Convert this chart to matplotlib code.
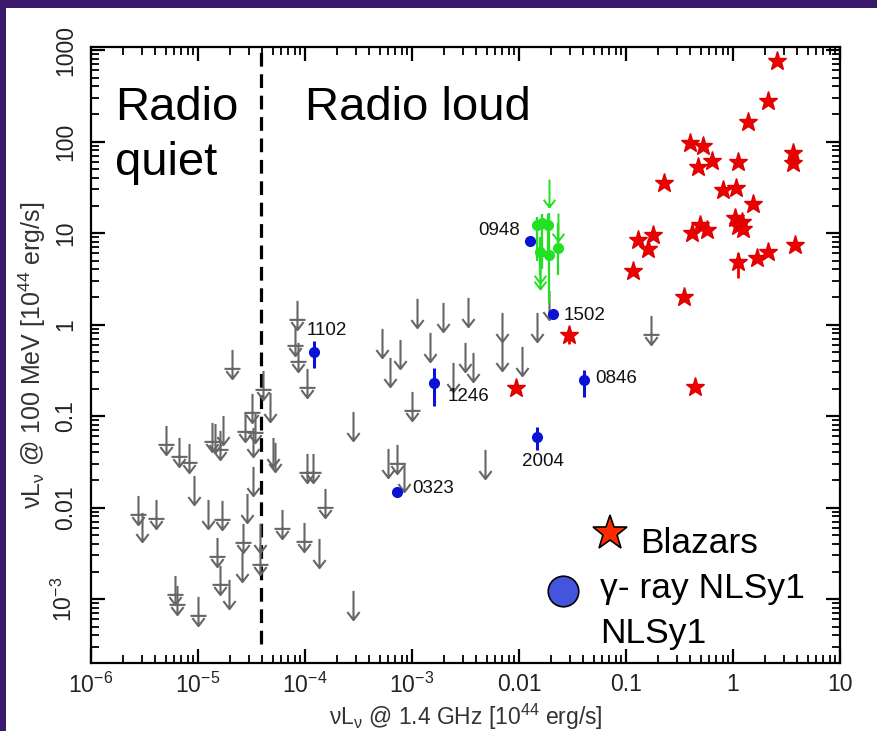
import numpy as np
import matplotlib.pyplot as plt
from matplotlib.path import Path
from matplotlib.patches import Rectangle
from matplotlib.lines import Line2D

plt.rcParams['font.family'] = ['Liberation Sans', 'DejaVu Sans']
plt.rcParams['mathtext.fontset'] = 'custom'
plt.rcParams['mathtext.rm'] = 'Liberation Sans'
plt.rcParams['mathtext.it'] = 'Liberation Sans:italic'
plt.rcParams['mathtext.bf'] = 'Liberation Sans:bold'

# Blazars (red stars)
blazar_x = [2.56, 2.14, 1.37, 0.396, 0.529, 0.468, 0.632, 1.12, 3.67, 3.67,
            0.228, 0.81, 1.06, 1.55, 1.04, 1.21, 1.12, 1.25, 0.41, 0.49,
            0.568, 0.13, 0.18, 0.16, 0.117, 1.12, 1.66, 2.14, 3.79, 0.35,
            0.44, 0.0293, 0.0093]
blazar_y = [764, 277, 164, 95.5, 89.3, 53.1, 61.7, 60.1, 75.5, 57.8,
            34.9, 29.5, 31.3, 20.6, 14.5, 13.3, 11.9, 11.2, 10.1, 12.2,
            10.8, 8.38, 9.5, 6.68, 3.87, 4.86, 5.29, 6.25, 7.39, 1.98,
            0.209, 0.768, 0.201]
# blazars with an error bar
blazar_err_x = [1.12, 0.0293]
blazar_err_y = [4.86, 0.768]
blazar_err_lo = [3.2, 0.62]
blazar_err_hi = [6.0, 0.95]

# gamma-ray NLSy1 (blue)
nls_names = ['1102', '1246', '0323', '0948', '1502', '0846', '2004']
nls_x = [1.22e-4, 1.61e-3, 7.3e-4, 0.0127, 0.0209, 0.0407, 0.0148]
nls_y = [0.497, 0.228, 0.0147, 8.24, 1.30, 0.247, 0.0585]
nls_lo = [0.337, 0.129, 0.0147, 8.24, 1.30, 0.163, 0.0425]
nls_hi = [0.665, 0.333, 0.0147, 8.24, 1.30, 0.318, 0.0764]

# green detections and limits
green_x = [0.0148, 0.0163, 0.0188, 0.0157, 0.0192, 0.0233]
green_y = [12.2, 12.8, 12.2, 6.25, 5.75, 6.8]
green_lo = [5.0, 4.0, 6.0, 3.5, 1.7, 3.5]
green_hi = [15.0, 16.0, 16.0, 9.0, 16.5, 13.0]
green_ul_x = [0.0192, 0.0157, 0.0157, 0.0233]
green_ul_y = [27.7, 4.0, 3.5, 11.7]

# NLSy1 upper limits (grey), with a cross bar
ul_bar_x = [2.07e-5, 4.07e-5, 3.18e-5, 2.75e-5, 3.41e-5, 5.02e-6, 6.68e-6,
            8.29e-6, 1.34e-5, 1.61e-5, 2.73e-6, 4.05e-6, 1.66e-5, 2.65e-5,
            1.49e-5, 3.79e-5, 1.61e-5, 6.1e-6, 6.4e-6, 1.0e-5, 8.35e-5,
            8.07e-5, 8.65e-5, 1.04e-4, 1.035e-4, 1.2e-4, 7.2e-4, 9.9e-4,
            0.171, 6.05e-5, 9.8e-5, 1.54e-4]
ul_bar_y = [0.370, 0.218, 0.121, 0.0764, 0.0733, 0.0547, 0.0407, 0.0345,
            0.0594, 0.0482, 0.0094, 0.0085, 0.0083, 0.0047, 0.00329, 0.00267,
            0.00161, 0.00125, 9.75e-4, 7.45e-4, 1.27, 0.66, 0.445, 0.228,
            0.0268, 0.0268, 0.0336, 0.128, 0.87, 0.0066, 0.0048, 0.0113]
# NLSy1 upper limits (grey), plain arrows
ul_x = [4.71e-5, 3.29e-5, 1.44e-5, 1.70e-5, 5.25e-5, 5.0e-5, 9.22e-6,
        3.29e-5, 3.02e-6, 1.25e-5, 2.85e-5, 3.79e-5, 2.56e-5, 1.95e-5,
        1.36e-4, 2.79e-4, 2.8e-4, 6.0e-4, 8.4e-4, 4.8e-3, 5.2e-4, 7.8e-4,
        6.2e-4, 1.11e-3, 1.93e-3, 3.36e-3, 1.47e-3, 3.13e-3, 3.74e-3,
        2.40e-3, 7.0e-3, 6.9e-3, 0.0146, 0.0107, 0.019]
ul_y = [0.126, 0.0524, 0.0571, 0.0703, 0.0359, 0.0407, 0.0155, 0.0196,
        0.0062, 0.0085, 0.0100, 0.0046, 0.00222, 0.00113, 3.16e-3, 0.077,
        8.6e-4, 0.0304, 0.0214, 0.0299, 0.633, 0.476, 0.305, 1.33, 1.22,
        1.36, 0.563, 0.438, 0.346, 0.269, 0.93, 0.453, 0.946, 0.403, 1.63]

radio_split = 3.9e-5

xticks = [1e-6, 1e-5, 1e-4, 1e-3, 1e-2, 1e-1, 1, 10]
xticklabels = ['$10^{-6}$', '$10^{-5}$', '$10^{-4}$', '$10^{-3}$',
               '0.01', '0.1', '1', '10']
yticks = [1e3, 1e2, 10, 1, 0.1, 0.01, 1e-3]
yticklabels = ['1000', '100', '10', '1', '0.1', '0.01', '$10^{-3}$']

# arrow symbols for upper limits (point sits at arrow centre)
arrow = Path([(0, 1), (0, -1), (-0.42, -0.45), (0, -1), (0.42, -0.45)],
             [Path.MOVETO, Path.LINETO, Path.MOVETO, Path.LINETO, Path.LINETO])
arrow_bar = Path([(0, 1), (0, -1), (-0.42, -0.45), (0, -1), (0.42, -0.45),
                  (-0.55, -0.3), (0.55, -0.3)],
                 [Path.MOVETO, Path.LINETO, Path.MOVETO, Path.LINETO,
                  Path.LINETO, Path.MOVETO, Path.LINETO])

W, H = 878, 731
fig = plt.figure(figsize=(W / 100, H / 100), dpi=100, facecolor='#3b1a6e')
fig.add_artist(Rectangle((6 / W, 0), 1, 1 - 8 / H, transform=fig.transFigure,
                         facecolor='white', edgecolor='none', zorder=-5))
ax = fig.add_axes([91 / W, 68 / H, 749 / W, 616 / H])
ax.set_xscale('log')
ax.set_yscale('log')
ax.set_xlim(1e-6, 10)
ax.set_ylim(2.0e-4, 1.08e3)

grey = '#666666'
ax.plot(ul_x, ul_y, ls='none', marker=arrow, ms=21, mfc='none', mec=grey,
        mew=1.5, zorder=2)
ax.plot(ul_bar_x, ul_bar_y, ls='none', marker=arrow_bar, ms=21, mfc='none',
        mec=grey, mew=1.5, zorder=2)

# green
gx = np.array(green_x)
gy = np.array(green_y)
ax.errorbar(gx, gy, yerr=[gy - np.array(green_lo), np.array(green_hi) - gy],
            fmt='o', color='#22e022', ms=7, elinewidth=1.6, capsize=0, zorder=3)
ax.plot(green_ul_x, green_ul_y, ls='none', marker=arrow, ms=20, mfc='none',
        mec='#22e022', mew=1.4, zorder=3)

# blue
bx = np.array(nls_x)
by = np.array(nls_y)
ax.errorbar(bx, by, yerr=[by - np.array(nls_lo), np.array(nls_hi) - by],
            fmt='o', color='#0a12d6', ms=7, elinewidth=2.2, capsize=0, zorder=4)
offsets = {'1102': (-5.5, 15.5, 'left'), '1246': (10, -9.6, 'left'),
           '0323': (11, 2.4, 'left'), '0948': (-7.2, 7.7, 'right'),
           '1502': (7.7, -0.7, 'left'), '0846': (7.7, 1.4, 'left'),
           '2004': (-11.2, -17.6, 'left')}
for name, x, y in zip(nls_names, nls_x, nls_y):
    dx, dy, ha = offsets[name]
    ax.annotate(name, (x, y), xytext=(dx, dy), textcoords='offset points',
                ha=ha, va='center', fontsize=13.5, color='#111111', zorder=6)

# red
ey = np.array(blazar_err_y)
ax.errorbar(blazar_err_x, ey,
            yerr=[ey - np.array(blazar_err_lo), np.array(blazar_err_hi) - ey],
            fmt='none', ecolor='#ee0000', elinewidth=2, capsize=0, zorder=5)
ax.plot(blazar_x, blazar_y, ls='none', marker='*', ms=14, color='#ee0000',
        mec='#dd0000', zorder=5)

ax.plot([radio_split, radio_split], [3.2e-4, 1.08e3], color='black', lw=2.3,
        dashes=(4.3, 2.4), zorder=1)

ax.set_xticks(xticks, xticklabels)
ax.set_yticks(yticks, yticklabels)
ax.xaxis.set_minor_formatter(plt.NullFormatter())
ax.yaxis.set_minor_formatter(plt.NullFormatter())
ax.tick_params(which='both', direction='in', top=True, right=True)
ax.tick_params(which='major', length=10, width=1.6, labelsize=16.5,
               labelcolor='#222222')
ax.tick_params(axis='x', which='major', pad=7)
ax.tick_params(axis='y', which='major', pad=10, labelrotation=90)
ax.tick_params(which='minor', length=6, width=1.3)
for lab in ax.get_yticklabels():
    lab.set_va('center')
for sp in ax.spines.values():
    sp.set_linewidth(1.6)

fig.text(465.5 / W, 1 - 717 / H, r'νL$_{\mathrm{ν}}$ @ 1.4 GHz [10$^{44}$ erg/s]',
         ha='center', va='center', fontsize=16.5, color='#333333')
fig.text(32 / W, 1 - 355 / H, r'νL$_{\mathrm{ν}}$ @ 100 MeV [10$^{44}$ erg/s]',
         ha='center', va='center', rotation=90, fontsize=18, color='#333333')

fig.text(115 / W, 1 - 120 / H, 'Radio', fontsize=34, va='baseline')
fig.text(115 / W, 1 - 175 / H, 'quiet', fontsize=34, va='baseline')
fig.text(305 / W, 1 - 120 / H, 'Radio loud', fontsize=34, va='baseline')

# legend
fig.add_artist(Line2D([610 / W], [1 - 533 / H], marker='*', ms=26,
                      mfc='#ff2a00', mec='black', mew=1.2,
                      transform=fig.transFigure))
fig.add_artist(Line2D([563 / W], [1 - 591 / H], marker='o', ms=22,
                      mfc='#4455dd', mec='black', mew=1.2,
                      transform=fig.transFigure))
fig.text(640 / W, 1 - 553 / H, 'Blazars', fontsize=25.5, va='baseline')
fig.text(600 / W, 1 - 598 / H, 'γ- ray NLSy1', fontsize=25.5, va='baseline')
fig.text(600 / W, 1 - 643 / H, 'NLSy1', fontsize=25.5, va='baseline')

fig.savefig('out.png', dpi=100, facecolor=fig.get_facecolor())
